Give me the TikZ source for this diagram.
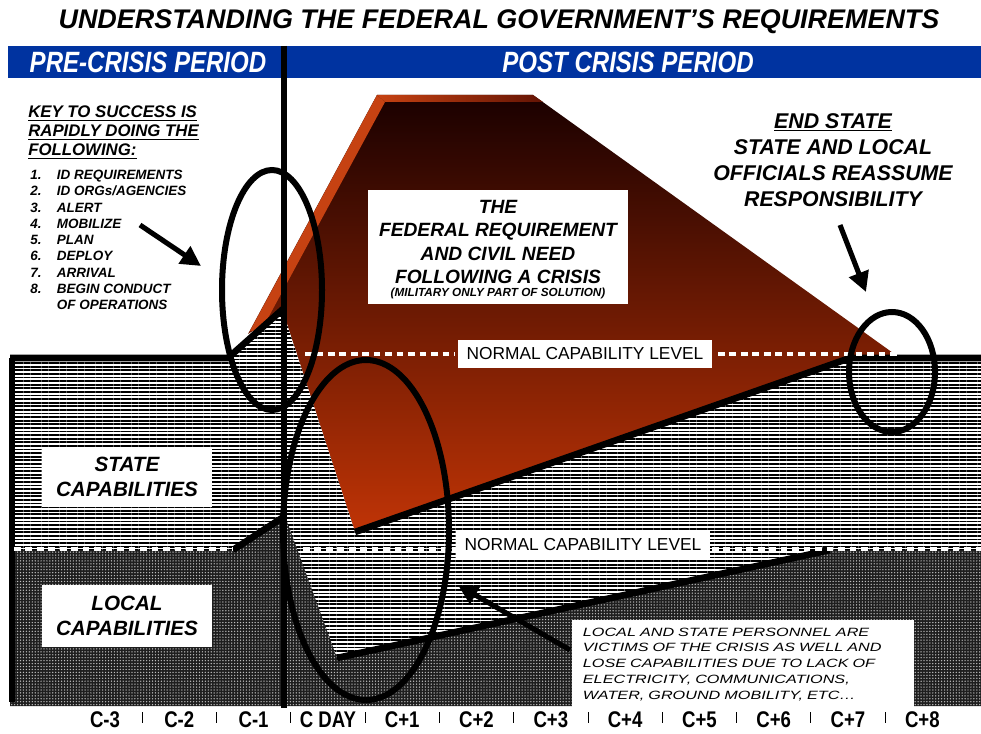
\documentclass[tikz,border=0pt]{standalone}
\usepackage{fontspec}
\setmainfont{Liberation Sans}
\newfontfamily\narrowsans[FakeStretch=0.82]{Liberation Sans}
\newfontfamily\widesans[FakeStretch=1.35]{Liberation Sans}
\usetikzlibrary{arrows.meta,patterns.meta}
\definecolor{bandblue}{RGB}{0,51,160}
\definecolor{fedtop}{RGB}{26,0,0}
\definecolor{fedbot}{RGB}{192,52,6}
\definecolor{fededge}{RGB}{198,66,18}
\definecolor{fedrim}{RGB}{100,20,4}
\definecolor{localgray}{RGB}{30,30,30}
\begin{document}
\begin{tikzpicture}[x=0.75pt,y=-0.75pt,
    capline/.style={line width=5pt,line join=round},
    ring/.style={line width=4.5pt},
    levelline/.style={white,line width=3.6pt,dash pattern=on 5pt off 3.6pt},
    pointer/.style={line width=3.8pt,-{Triangle[length=15pt,width=15pt]}},
    box/.style={fill=white,inner sep=0pt},
    statefill/.style={preaction={fill=white},pattern={Lines[distance=2.7pt,line width=1.35pt]},pattern color=black},
    localfill/.style={preaction={fill=localgray},pattern={Dots[distance=2.2pt,radius=0.55pt]},pattern color=white!75!black},
    heading/.style={font=\fontsize{20.2}{22}\selectfont\bfseries\itshape},
    period/.style={white,font=\narrowsans\fontsize{22}{24}\selectfont\bfseries\itshape},
    axislabel/.style={font=\narrowsans\fontsize{17}{19}\selectfont\bfseries},
    keytext/.style={align=left,inner sep=0pt,font=\fontsize{12.6}{14.25}\selectfont\bfseries\itshape},
    steptext/.style={inner sep=0pt,font=\fontsize{10.1}{12.2}\selectfont\bfseries\itshape},
    fedtext/.style={align=center,font=\fontsize{14.4}{17.5}\selectfont\bfseries\itshape},
    endtext/.style={align=center,font=\fontsize{16}{19.5}\selectfont\bfseries\itshape},
    captext/.style={align=center,font=\fontsize{15.5}{19}\selectfont\bfseries\itshape},
    levelbox/.style={box,minimum width=190pt,minimum height=21pt,font=\fontsize{13}{15}\selectfont},
    victimtext/.style={align=left,text width=240pt,font=\widesans\fontsize{9}{11.8}\selectfont\itshape}]
  \useasboundingbox (0,0) rectangle (981,734);
  \node (title) [heading] at (499,22) {UNDERSTANDING THE FEDERAL GOVERNMENT’S REQUIREMENTS};
  \fill[bandblue] (8,46) rectangle (981,78);
  \node (pre) [period] at (148,62) {PRE-CRISIS PERIOD};
  \node (post) [period] at (628,62) {POST CRISIS PERIOD};
  \shade[top color=fedtop,bottom color=fedbot] (248,334) -- (377,95) -- (533,95) -- (900,358) -- (355,532) -- (283,312) -- cycle;
  \fill[fededge] (250,331) -- (377,95) -- (385,102) -- (261,331) -- cycle;
  \shade[left color=fededge,right color=fedrim] (377,95) -- (533,95) -- (543,102) -- (385,102) -- cycle;
  \fill[statefill] (10,358) -- (228,358) -- (283,309) -- (283,312) -- (355,532) -- (850,358) -- (981,358) -- (981,705) -- (10,705) -- cycle;
  \fill[localfill] (10,550) -- (233,550) -- (285,516) -- (337,658) -- (830,550) -- (981,550) -- (981,706) -- (10,706) -- cycle;
  \draw[capline] (10,358) -- (228,358) -- (283,309);
  \draw[capline] (355,532) -- (850,358) -- (981,358);
  \draw[capline] (233,550) -- (285,516);
  \draw[capline] (337,658) -- (830,550);
  \draw[capline] (12,358) -- (12,702);
  \draw[levelline] (305,354) -- (455,354) (718,354) -- (897,354);
  \draw[levelline,line width=2.6pt] (14,549) -- (233,549) (303,549) -- (457,549) (712,549) -- (981,549);
  \draw[line width=4pt] (284,46) -- (284,708);
  \draw[ring] (272,290) ellipse [x radius=50,y radius=120];
  \draw[ring] (366,530) ellipse [x radius=83,y radius=170];
  \draw[ring] (892,372) ellipse [x radius=43,y radius=60];
  \node (norm1) [levelbox] at (585,354) {NORMAL CAPABILITY LEVEL};
  \node (norm2) [levelbox] at (583,545) {NORMAL CAPABILITY LEVEL};
  \node (key) [keytext,anchor=north west] at (28,106) {\underline{KEY TO SUCCESS IS}\\\underline{RAPIDLY DOING THE}\\\underline{FOLLOWING:}};
  \node (steps) [steptext,anchor=north west] at (30,168) {\begin{tabular}{@{}p{20pt}@{}l@{}}
    1.&ID REQUIREMENTS\\ 2.&ID ORGs/AGENCIES\\ 3.&ALERT\\ 4.&MOBILIZE\\ 5.&PLAN\\
    6.&DEPLOY\\ 7.&ARRIVAL\\ 8.&BEGIN CONDUCT\\ &OF OPERATIONS\end{tabular}};
  \node (fed) [box,fedtext,minimum width=195pt,minimum height=86pt] at (498,247)
    {\rule{0pt}{14pt}THE\\FEDERAL REQUIREMENT\\AND CIVIL NEED\\FOLLOWING A CRISIS\\[-7.5pt]{\fontsize{8.8}{9}\selectfont(MILITARY ONLY PART OF SOLUTION)}};
  \node (endstate) [endtext] at (833,160) {\underline{END STATE}\\STATE AND LOCAL\\OFFICIALS REASSUME\\RESPONSIBILITY};
  \node (state) [box,captext,minimum width=127pt,minimum height=45pt] at (127,477) {STATE\\CAPABILITIES};
  \node (local) [box,captext,minimum width=127pt,minimum height=46.5pt] at (127,616) {LOCAL\\CAPABILITIES};
  \node (victims) [box,victimtext,anchor=north west,minimum height=66pt,inner xsep=8pt] at (572,620)
    {LOCAL AND STATE PERSONNEL ARE\\VICTIMS OF THE CRISIS AS WELL AND\\LOSE CAPABILITIES DUE TO LACK OF\\ELECTRICITY, COMMUNICATIONS,\\WATER, GROUND MOBILITY, ETC…};
  \coordinate (keytail) at (140,225);
  \coordinate (keytip) at (201,266);
  \coordinate (endtail) at (840,225);
  \coordinate (endtip) at (866,292);
  \coordinate (victimtail) at (570,650);
  \coordinate (victimtip) at (458,585);
  \draw[pointer] (keytail) -- (keytip);
  \draw[pointer] (endtail) -- (endtip);
  \draw[pointer] (victimtail) -- (victimtip);
  \foreach \lab [count=\i from 0] in {C-3,C-2,C-1,C DAY,C+1,C+2,C+3,C+4,C+5,C+6,C+7,C+8}
    \node (ax\i) [axislabel] at (105+74.3*\i,720) {\lab};
  \foreach \i in {0,...,10}
    \draw[thin] (142+74.3*\i,712) -- (142+74.3*\i,723);
\end{tikzpicture}
\end{document}
